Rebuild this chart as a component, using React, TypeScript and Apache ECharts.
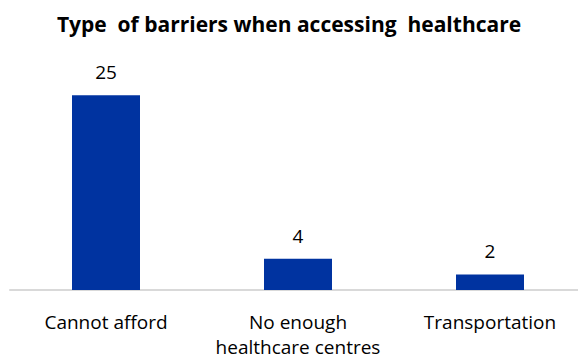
import React, { useEffect, useRef } from "react";
import * as echarts from "echarts";

const categories = ["Cannot afford", "No enough\nhealthcare centres", "Transportation"];
const values = [25, 4, 2];
const titleText = "Type  of barriers when accessing  healthcare";

export default function App() {
  const ref = useRef<HTMLDivElement>(null);
  useEffect(() => {
    if (!ref.current) return;
    const chart = echarts.init(ref.current, null, { renderer: "svg" });
    const font = "'Open Sans', sans-serif";
    chart.setOption({
      animation: false,
      backgroundColor: "#ffffff",
      title: {
        text: titleText,
        left: "center",
        top: 8,
        textStyle: { fontFamily: font, fontWeight: "bold", fontSize: 21, color: "#000000" },
      },
      grid: { left: 10, width: 576, top: 56.2, bottom: 68, containLabel: false, outerBoundsMode: "none" },
      xAxis: {
        type: "category",
        data: categories,
        axisLine: { lineStyle: { color: "#d9d9d9", width: 2 } },
        axisTick: { show: false },
        axisLabel: { fontFamily: font, fontSize: 19, color: "#000000", margin: 19, lineHeight: 25, interval: 0 },
      },
      yAxis: {
        type: "value",
        min: 0,
        max: 30,
        show: false,
        splitLine: { show: false },
      },
      series: [
        {
          type: "bar",
          data: values,
          barWidth: 68,
          itemStyle: { color: "#0033a0" },
          label: {
            show: true,
            position: "top",
            distance: 13.5,
            fontFamily: font,
            fontSize: 19,
            color: "#000000",
          },
        },
      ],
    });
    return () => chart.dispose();
  }, []);
  return <div ref={ref} style={{ width: 578, height: 358, position: "absolute", left: 0, top: 0 }} />;
}
